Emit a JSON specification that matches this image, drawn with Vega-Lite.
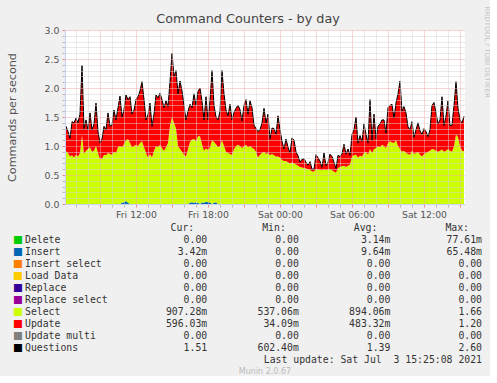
{
  "$schema": "https://vega.github.io/schema/vega-lite/v6.json",
  "background": "#F0F0F0",
  "padding": {"left": 6, "top": 5, "right": 0, "bottom": 0},
  "title": {"text": "Command Counters - by day", "font": "DejaVu Sans", "fontSize": 12.8, "fontWeight": "normal", "color": "#444444", "anchor": "middle", "offset": -20},
  "config": {"view": {"stroke": null}, "font": "DejaVu Sans"},
  "spacing": 3,
  "resolve": {"scale": {"color": "independent", "x": "independent", "y": "independent"}},
  "datasets": {
    "ts": [
{"t":"2021-07-02T06:10","Insert":0,"Select":0.91,"Update":0.43,"Questions":1.34},
{"t":"2021-07-02T06:20","Insert":0,"Select":0.88,"Update":0.37,"Questions":1.25},
{"t":"2021-07-02T06:30","Insert":0,"Select":0.82,"Update":0.31,"Questions":1.13},
{"t":"2021-07-02T06:40","Insert":0,"Select":0.84,"Update":0.58,"Questions":1.42},
{"t":"2021-07-02T06:50","Insert":0,"Select":0.80,"Update":0.60,"Questions":1.40},
{"t":"2021-07-02T07:00","Insert":0,"Select":0.85,"Update":0.63,"Questions":1.48},
{"t":"2021-07-02T07:10","Insert":0,"Select":0.82,"Update":0.58,"Questions":1.40},
{"t":"2021-07-02T07:20","Insert":0,"Select":0.88,"Update":0.67,"Questions":1.55},
{"t":"2021-07-02T07:30","Insert":0,"Select":1.19,"Update":1.20,"Questions":2.39},
{"t":"2021-07-02T07:40","Insert":0,"Select":0.86,"Update":0.44,"Questions":1.30},
{"t":"2021-07-02T07:50","Insert":0,"Select":0.92,"Update":0.53,"Questions":1.45},
{"t":"2021-07-02T08:00","Insert":0,"Select":0.95,"Update":0.33,"Questions":1.28},
{"t":"2021-07-02T08:10","Insert":0,"Select":0.98,"Update":0.59,"Questions":1.57},
{"t":"2021-07-02T08:20","Insert":0,"Select":0.90,"Update":0.38,"Questions":1.28},
{"t":"2021-07-02T08:30","Insert":0,"Select":0.92,"Update":0.46,"Questions":1.38},
{"t":"2021-07-02T08:40","Insert":0,"Select":1.00,"Update":0.74,"Questions":1.74},
{"t":"2021-07-02T08:50","Insert":0,"Select":0.88,"Update":0.37,"Questions":1.25},
{"t":"2021-07-02T09:00","Insert":0,"Select":0.77,"Update":0.28,"Questions":1.05},
{"t":"2021-07-02T09:10","Insert":0,"Select":0.78,"Update":0.34,"Questions":1.12},
{"t":"2021-07-02T09:20","Insert":0,"Select":0.85,"Update":0.49,"Questions":1.34},
{"t":"2021-07-02T09:30","Insert":0,"Select":0.84,"Update":0.44,"Questions":1.28},
{"t":"2021-07-02T09:40","Insert":0,"Select":0.88,"Update":0.69,"Questions":1.57},
{"t":"2021-07-02T09:50","Insert":0,"Select":0.86,"Update":0.48,"Questions":1.34},
{"t":"2021-07-02T10:00","Insert":0,"Select":0.85,"Update":0.51,"Questions":1.36},
{"t":"2021-07-02T10:10","Insert":0,"Select":0.90,"Update":0.72,"Questions":1.62},
{"t":"2021-07-02T10:20","Insert":0,"Select":0.88,"Update":0.57,"Questions":1.45},
{"t":"2021-07-02T10:30","Insert":0,"Select":0.98,"Update":0.68,"Questions":1.66},
{"t":"2021-07-02T10:40","Insert":0,"Select":1.00,"Update":0.86,"Questions":1.86},
{"t":"2021-07-02T10:50","Insert":0.02,"Select":0.96,"Update":0.52,"Questions":1.50},
{"t":"2021-07-02T11:00","Insert":0.03,"Select":1.00,"Update":0.60,"Questions":1.63},
{"t":"2021-07-02T11:10","Insert":0.05,"Select":1.05,"Update":0.78,"Questions":1.88},
{"t":"2021-07-02T11:20","Insert":0.02,"Select":1.10,"Update":0.68,"Questions":1.80},
{"t":"2021-07-02T11:30","Insert":0,"Select":1.05,"Update":0.80,"Questions":1.85},
{"t":"2021-07-02T11:40","Insert":0,"Select":0.98,"Update":0.57,"Questions":1.55},
{"t":"2021-07-02T11:50","Insert":0,"Select":1.00,"Update":0.62,"Questions":1.62},
{"t":"2021-07-02T12:00","Insert":0,"Select":1.02,"Update":0.78,"Questions":1.80},
{"t":"2021-07-02T12:10","Insert":0,"Select":1.00,"Update":0.85,"Questions":1.85},
{"t":"2021-07-02T12:20","Insert":0,"Select":1.05,"Update":0.90,"Questions":1.95},
{"t":"2021-07-02T12:30","Insert":0,"Select":1.08,"Update":1.03,"Questions":2.11},
{"t":"2021-07-02T12:40","Insert":0,"Select":0.98,"Update":0.82,"Questions":1.80},
{"t":"2021-07-02T12:50","Insert":0,"Select":0.88,"Update":0.57,"Questions":1.45},
{"t":"2021-07-02T13:00","Insert":0,"Select":0.80,"Update":0.74,"Questions":1.54},
{"t":"2021-07-02T13:10","Insert":0,"Select":0.86,"Update":0.88,"Questions":1.74},
{"t":"2021-07-02T13:20","Insert":0,"Select":0.80,"Update":0.54,"Questions":1.34},
{"t":"2021-07-02T13:30","Insert":0,"Select":0.92,"Update":0.63,"Questions":1.55},
{"t":"2021-07-02T13:40","Insert":0,"Select":1.00,"Update":0.88,"Questions":1.88},
{"t":"2021-07-02T13:50","Insert":0,"Select":0.98,"Update":0.85,"Questions":1.83},
{"t":"2021-07-02T14:00","Insert":0,"Select":1.02,"Update":0.89,"Questions":1.91},
{"t":"2021-07-02T14:10","Insert":0,"Select":0.96,"Update":0.84,"Questions":1.80},
{"t":"2021-07-02T14:20","Insert":0,"Select":0.92,"Update":0.74,"Questions":1.66},
{"t":"2021-07-02T14:30","Insert":0,"Select":0.98,"Update":0.80,"Questions":1.78},
{"t":"2021-07-02T14:40","Insert":0,"Select":1.05,"Update":0.63,"Questions":1.68},
{"t":"2021-07-02T14:50","Insert":0,"Select":1.35,"Update":0.76,"Questions":2.11},
{"t":"2021-07-02T15:00","Insert":0,"Select":1.50,"Update":1.10,"Questions":2.60},
{"t":"2021-07-02T15:10","Insert":0,"Select":1.40,"Update":0.80,"Questions":2.20},
{"t":"2021-07-02T15:20","Insert":0,"Select":1.30,"Update":1.00,"Questions":2.30},
{"t":"2021-07-02T15:30","Insert":0,"Select":1.00,"Update":0.90,"Questions":1.90},
{"t":"2021-07-02T15:40","Insert":0,"Select":0.95,"Update":1.17,"Questions":2.12},
{"t":"2021-07-02T15:50","Insert":0,"Select":0.90,"Update":1.05,"Questions":1.95},
{"t":"2021-07-02T16:00","Insert":0,"Select":0.85,"Update":0.85,"Questions":1.70},
{"t":"2021-07-02T16:10","Insert":0,"Select":0.82,"Update":0.63,"Questions":1.45},
{"t":"2021-07-02T16:20","Insert":0,"Select":0.95,"Update":0.65,"Questions":1.60},
{"t":"2021-07-02T16:30","Insert":0.02,"Select":1.05,"Update":0.65,"Questions":1.72},
{"t":"2021-07-02T16:40","Insert":0.03,"Select":1.08,"Update":0.55,"Questions":1.66},
{"t":"2021-07-02T16:50","Insert":0.02,"Select":1.10,"Update":0.78,"Questions":1.90},
{"t":"2021-07-02T17:00","Insert":0.03,"Select":1.05,"Update":0.62,"Questions":1.70},
{"t":"2021-07-02T17:10","Insert":0.02,"Select":1.15,"Update":0.77,"Questions":1.94},
{"t":"2021-07-02T17:20","Insert":0,"Select":1.17,"Update":0.83,"Questions":2.00},
{"t":"2021-07-02T17:30","Insert":0.03,"Select":1.00,"Update":0.74,"Questions":1.77},
{"t":"2021-07-02T17:40","Insert":0.02,"Select":0.90,"Update":0.53,"Questions":1.45},
{"t":"2021-07-02T17:50","Insert":0.04,"Select":0.92,"Update":0.89,"Questions":1.85},
{"t":"2021-07-02T18:00","Insert":0.03,"Select":0.90,"Update":0.52,"Questions":1.45},
{"t":"2021-07-02T18:10","Insert":0.03,"Select":0.95,"Update":0.80,"Questions":1.78},
{"t":"2021-07-02T18:20","Insert":0,"Select":1.10,"Update":1.20,"Questions":2.30},
{"t":"2021-07-02T18:30","Insert":0.02,"Select":1.05,"Update":0.63,"Questions":1.70},
{"t":"2021-07-02T18:40","Insert":0.03,"Select":1.00,"Update":0.47,"Questions":1.50},
{"t":"2021-07-02T18:50","Insert":0,"Select":0.98,"Update":0.47,"Questions":1.45},
{"t":"2021-07-02T19:00","Insert":0,"Select":1.00,"Update":0.60,"Questions":1.60},
{"t":"2021-07-02T19:10","Insert":0,"Select":1.10,"Update":1.20,"Questions":2.30},
{"t":"2021-07-02T19:20","Insert":0,"Select":1.00,"Update":0.90,"Questions":1.90},
{"t":"2021-07-02T19:30","Insert":0,"Select":0.90,"Update":0.72,"Questions":1.62},
{"t":"2021-07-02T19:40","Insert":0,"Select":0.88,"Update":0.64,"Questions":1.52},
{"t":"2021-07-02T19:50","Insert":0,"Select":0.86,"Update":0.86,"Questions":1.72},
{"t":"2021-07-02T20:00","Insert":0,"Select":0.85,"Update":0.60,"Questions":1.45},
{"t":"2021-07-02T20:10","Insert":0,"Select":0.95,"Update":0.63,"Questions":1.58},
{"t":"2021-07-02T20:20","Insert":0,"Select":1.00,"Update":0.65,"Questions":1.65},
{"t":"2021-07-02T20:30","Insert":0,"Select":1.02,"Update":0.68,"Questions":1.70},
{"t":"2021-07-02T20:40","Insert":0,"Select":1.00,"Update":0.63,"Questions":1.63},
{"t":"2021-07-02T20:50","Insert":0,"Select":0.96,"Update":0.47,"Questions":1.43},
{"t":"2021-07-02T21:00","Insert":0,"Select":1.00,"Update":0.70,"Questions":1.70},
{"t":"2021-07-02T21:10","Insert":0,"Select":1.02,"Update":0.78,"Questions":1.80},
{"t":"2021-07-02T21:20","Insert":0,"Select":0.98,"Update":0.57,"Questions":1.55},
{"t":"2021-07-02T21:30","Insert":0,"Select":1.00,"Update":0.78,"Questions":1.78},
{"t":"2021-07-02T21:40","Insert":0,"Select":0.97,"Update":0.69,"Questions":1.66},
{"t":"2021-07-02T21:50","Insert":0,"Select":0.95,"Update":0.41,"Questions":1.36},
{"t":"2021-07-02T22:00","Insert":0,"Select":0.90,"Update":0.40,"Questions":1.30},
{"t":"2021-07-02T22:10","Insert":0,"Select":0.80,"Update":0.45,"Questions":1.25},
{"t":"2021-07-02T22:20","Insert":0,"Select":0.85,"Update":0.43,"Questions":1.28},
{"t":"2021-07-02T22:30","Insert":0,"Select":0.88,"Update":0.52,"Questions":1.40},
{"t":"2021-07-02T22:40","Insert":0,"Select":0.90,"Update":0.75,"Questions":1.65},
{"t":"2021-07-02T22:50","Insert":0,"Select":0.86,"Update":0.54,"Questions":1.40},
{"t":"2021-07-02T23:00","Insert":0,"Select":0.88,"Update":0.67,"Questions":1.55},
{"t":"2021-07-02T23:10","Insert":0,"Select":0.84,"Update":0.28,"Questions":1.12},
{"t":"2021-07-02T23:20","Insert":0,"Select":0.86,"Update":0.45,"Questions":1.31},
{"t":"2021-07-02T23:30","Insert":0,"Select":0.84,"Update":0.46,"Questions":1.30},
{"t":"2021-07-02T23:40","Insert":0,"Select":0.82,"Update":0.38,"Questions":1.20},
{"t":"2021-07-02T23:50","Insert":0,"Select":0.82,"Update":0.70,"Questions":1.52},
{"t":"2021-07-03T00:00","Insert":0,"Select":0.80,"Update":0.48,"Questions":1.28},
{"t":"2021-07-03T00:10","Insert":0,"Select":0.76,"Update":0.32,"Questions":1.08},
{"t":"2021-07-03T00:20","Insert":0,"Select":0.74,"Update":0.21,"Questions":0.95},
{"t":"2021-07-03T00:30","Insert":0,"Select":0.74,"Update":0.38,"Questions":1.12},
{"t":"2021-07-03T00:40","Insert":0,"Select":0.72,"Update":0.26,"Questions":0.98},
{"t":"2021-07-03T00:50","Insert":0,"Select":0.70,"Update":0.18,"Questions":0.88},
{"t":"2021-07-03T01:00","Insert":0,"Select":0.72,"Update":0.42,"Questions":1.14},
{"t":"2021-07-03T01:10","Insert":0,"Select":0.70,"Update":0.40,"Questions":1.10},
{"t":"2021-07-03T01:20","Insert":0,"Select":0.68,"Update":0.22,"Questions":0.90},
{"t":"2021-07-03T01:30","Insert":0,"Select":0.66,"Update":0.17,"Questions":0.83},
{"t":"2021-07-03T01:40","Insert":0,"Select":0.64,"Update":0.08,"Questions":0.72},
{"t":"2021-07-03T01:50","Insert":0,"Select":0.63,"Update":0.14,"Questions":0.77},
{"t":"2021-07-03T02:00","Insert":0,"Select":0.62,"Update":0.16,"Questions":0.78},
{"t":"2021-07-03T02:10","Insert":0,"Select":0.61,"Update":0.11,"Questions":0.72},
{"t":"2021-07-03T02:20","Insert":0,"Select":0.60,"Update":0.07,"Questions":0.67},
{"t":"2021-07-03T02:30","Insert":0,"Select":0.59,"Update":0.14,"Questions":0.73},
{"t":"2021-07-03T02:40","Insert":0,"Select":0.56,"Update":0.04,"Questions":0.60},
{"t":"2021-07-03T02:50","Insert":0,"Select":0.56,"Update":0.04,"Questions":0.60},
{"t":"2021-07-03T03:00","Insert":0,"Select":0.60,"Update":0.25,"Questions":0.85},
{"t":"2021-07-03T03:10","Insert":0,"Select":0.60,"Update":0.20,"Questions":0.80},
{"t":"2021-07-03T03:20","Insert":0,"Select":0.59,"Update":0.15,"Questions":0.74},
{"t":"2021-07-03T03:30","Insert":0,"Select":0.58,"Update":0.05,"Questions":0.63},
{"t":"2021-07-03T03:40","Insert":0,"Select":0.60,"Update":0.28,"Questions":0.88},
{"t":"2021-07-03T03:50","Insert":0,"Select":0.58,"Update":0.08,"Questions":0.66},
{"t":"2021-07-03T04:00","Insert":0,"Select":0.60,"Update":0.12,"Questions":0.72},
{"t":"2021-07-03T04:10","Insert":0,"Select":0.60,"Update":0.26,"Questions":0.86},
{"t":"2021-07-03T04:20","Insert":0,"Select":0.58,"Update":0.24,"Questions":0.82},
{"t":"2021-07-03T04:30","Insert":0,"Select":0.56,"Update":0.16,"Questions":0.72},
{"t":"2021-07-03T04:40","Insert":0,"Select":0.54,"Update":0.07,"Questions":0.61},
{"t":"2021-07-03T04:50","Insert":0,"Select":0.62,"Update":0.22,"Questions":0.84},
{"t":"2021-07-03T05:00","Insert":0,"Select":0.64,"Update":0.18,"Questions":0.82},
{"t":"2021-07-03T05:10","Insert":0,"Select":0.65,"Update":0.21,"Questions":0.86},
{"t":"2021-07-03T05:20","Insert":0,"Select":0.66,"Update":0.37,"Questions":1.03},
{"t":"2021-07-03T05:30","Insert":0,"Select":0.64,"Update":0.22,"Questions":0.86},
{"t":"2021-07-03T05:40","Insert":0,"Select":0.66,"Update":0.29,"Questions":0.95},
{"t":"2021-07-03T05:50","Insert":0,"Select":0.68,"Update":0.16,"Questions":0.84},
{"t":"2021-07-03T06:00","Insert":0,"Select":0.82,"Update":0.38,"Questions":1.20},
{"t":"2021-07-03T06:10","Insert":0,"Select":0.84,"Update":0.44,"Questions":1.28},
{"t":"2021-07-03T06:20","Insert":0,"Select":0.85,"Update":0.65,"Questions":1.50},
{"t":"2021-07-03T06:30","Insert":0,"Select":0.80,"Update":0.25,"Questions":1.05},
{"t":"2021-07-03T06:40","Insert":0,"Select":0.83,"Update":0.35,"Questions":1.18},
{"t":"2021-07-03T06:50","Insert":0,"Select":0.82,"Update":0.26,"Questions":1.08},
{"t":"2021-07-03T07:00","Insert":0,"Select":0.88,"Update":0.50,"Questions":1.38},
{"t":"2021-07-03T07:10","Insert":0,"Select":0.90,"Update":0.30,"Questions":1.20},
{"t":"2021-07-03T07:20","Insert":0,"Select":0.85,"Update":0.20,"Questions":1.05},
{"t":"2021-07-03T07:30","Insert":0,"Select":0.95,"Update":0.85,"Questions":1.80},
{"t":"2021-07-03T07:40","Insert":0,"Select":0.88,"Update":0.22,"Questions":1.10},
{"t":"2021-07-03T07:50","Insert":0,"Select":0.95,"Update":0.60,"Questions":1.55},
{"t":"2021-07-03T08:00","Insert":0,"Select":0.96,"Update":0.16,"Questions":1.12},
{"t":"2021-07-03T08:10","Insert":0,"Select":1.00,"Update":0.34,"Questions":1.34},
{"t":"2021-07-03T08:20","Insert":0,"Select":0.98,"Update":0.40,"Questions":1.38},
{"t":"2021-07-03T08:30","Insert":0,"Select":1.02,"Update":0.43,"Questions":1.45},
{"t":"2021-07-03T08:40","Insert":0,"Select":1.00,"Update":0.45,"Questions":1.45},
{"t":"2021-07-03T08:50","Insert":0,"Select":0.96,"Update":0.26,"Questions":1.22},
{"t":"2021-07-03T09:00","Insert":0,"Select":1.05,"Update":0.61,"Questions":1.66},
{"t":"2021-07-03T09:10","Insert":0,"Select":1.08,"Update":0.62,"Questions":1.70},
{"t":"2021-07-03T09:20","Insert":0,"Select":1.06,"Update":0.66,"Questions":1.72},
{"t":"2021-07-03T09:30","Insert":0,"Select":1.05,"Update":0.43,"Questions":1.48},
{"t":"2021-07-03T09:40","Insert":0,"Select":1.10,"Update":0.64,"Questions":1.74},
{"t":"2021-07-03T09:50","Insert":0,"Select":1.00,"Update":0.90,"Questions":1.90},
{"t":"2021-07-03T10:00","Insert":0,"Select":0.95,"Update":1.17,"Questions":2.12},
{"t":"2021-07-03T10:10","Insert":0,"Select":0.90,"Update":0.70,"Questions":1.60},
{"t":"2021-07-03T10:20","Insert":0,"Select":0.92,"Update":0.76,"Questions":1.68},
{"t":"2021-07-03T10:30","Insert":0,"Select":0.88,"Update":0.69,"Questions":1.57},
{"t":"2021-07-03T10:40","Insert":0,"Select":0.86,"Update":0.47,"Questions":1.33},
{"t":"2021-07-03T10:50","Insert":0,"Select":0.85,"Update":0.43,"Questions":1.28},
{"t":"2021-07-03T11:00","Insert":0,"Select":0.92,"Update":0.50,"Questions":1.42},
{"t":"2021-07-03T11:10","Insert":0,"Select":0.86,"Update":0.29,"Questions":1.15},
{"t":"2021-07-03T11:20","Insert":0,"Select":0.88,"Update":0.40,"Questions":1.28},
{"t":"2021-07-03T11:30","Insert":0,"Select":0.90,"Update":0.50,"Questions":1.40},
{"t":"2021-07-03T11:40","Insert":0,"Select":0.85,"Update":0.41,"Questions":1.26},
{"t":"2021-07-03T11:50","Insert":0,"Select":0.82,"Update":0.38,"Questions":1.20},
{"t":"2021-07-03T12:00","Insert":0,"Select":0.86,"Update":0.44,"Questions":1.30},
{"t":"2021-07-03T12:10","Insert":0,"Select":0.88,"Update":0.37,"Questions":1.25},
{"t":"2021-07-03T12:20","Insert":0,"Select":0.90,"Update":0.26,"Questions":1.16},
{"t":"2021-07-03T12:30","Insert":0,"Select":0.92,"Update":0.36,"Questions":1.28},
{"t":"2021-07-03T12:40","Insert":0,"Select":0.95,"Update":0.75,"Questions":1.70},
{"t":"2021-07-03T12:50","Insert":0,"Select":0.94,"Update":0.81,"Questions":1.75},
{"t":"2021-07-03T13:00","Insert":0,"Select":0.92,"Update":0.65,"Questions":1.57},
{"t":"2021-07-03T13:10","Insert":0,"Select":0.90,"Update":0.48,"Questions":1.38},
{"t":"2021-07-03T13:20","Insert":0,"Select":0.92,"Update":0.53,"Questions":1.45},
{"t":"2021-07-03T13:30","Insert":0,"Select":0.94,"Update":0.91,"Questions":1.85},
{"t":"2021-07-03T13:40","Insert":0,"Select":0.90,"Update":0.45,"Questions":1.35},
{"t":"2021-07-03T13:50","Insert":0,"Select":0.92,"Update":0.60,"Questions":1.52},
{"t":"2021-07-03T14:00","Insert":0,"Select":0.95,"Update":0.83,"Questions":1.78},
{"t":"2021-07-03T14:10","Insert":0,"Select":0.92,"Update":0.43,"Questions":1.35},
{"t":"2021-07-03T14:20","Insert":0,"Select":0.90,"Update":0.46,"Questions":1.36},
{"t":"2021-07-03T14:30","Insert":0,"Select":1.00,"Update":0.70,"Questions":1.70},
{"t":"2021-07-03T14:40","Insert":0,"Select":1.20,"Update":0.91,"Questions":2.11},
{"t":"2021-07-03T14:50","Insert":0,"Select":1.15,"Update":0.50,"Questions":1.65},
{"t":"2021-07-03T15:00","Insert":0,"Select":1.00,"Update":0.45,"Questions":1.45},
{"t":"2021-07-03T15:10","Insert":0,"Select":0.92,"Update":0.48,"Questions":1.40},
{"t":"2021-07-03T15:20","Insert":0,"Select":0.91,"Update":0.60,"Questions":1.51}
    ],
    "tbl": [
      {"name":"Delete","Cur":"0.00\u00a0","Min":"0.00\u00a0","Avg":"3.14m","Max":"77.61m"},
      {"name":"Insert","Cur":"3.42m","Min":"0.00\u00a0","Avg":"9.64m","Max":"65.48m"},
      {"name":"Insert select","Cur":"0.00\u00a0","Min":"0.00\u00a0","Avg":"0.00\u00a0","Max":"0.00\u00a0"},
      {"name":"Load Data","Cur":"0.00\u00a0","Min":"0.00\u00a0","Avg":"0.00\u00a0","Max":"0.00\u00a0"},
      {"name":"Replace","Cur":"0.00\u00a0","Min":"0.00\u00a0","Avg":"0.00\u00a0","Max":"0.00\u00a0"},
      {"name":"Replace select","Cur":"0.00\u00a0","Min":"0.00\u00a0","Avg":"0.00\u00a0","Max":"0.00\u00a0"},
      {"name":"Select","Cur":"907.28m","Min":"537.06m","Avg":"894.06m","Max":"1.66\u00a0"},
      {"name":"Update","Cur":"596.03m","Min":"34.09m","Avg":"483.32m","Max":"1.20\u00a0"},
      {"name":"Update multi","Cur":"0.00\u00a0","Min":"0.00\u00a0","Avg":"0.00\u00a0","Max":"0.00\u00a0"},
      {"name":"Questions","Cur":"1.51\u00a0","Min":"602.40m","Avg":"1.39\u00a0","Max":"2.60\u00a0"}
    ]
  },
  "vconcat": [
    {
      "width": 400,
      "height": 174,
      "view": {"fill": "white", "stroke": null},
      "data": {"name": "ts"},
      "layer": [
        {
          "transform": [{"fold": ["Insert", "Select", "Update"], "as": ["series", "amount"]}],
          "mark": {"type": "area"},
          "encoding": {
            "x": {
              "field": "t", "type": "temporal",
              "scale": {"domain": [{"year": 2021, "month": 7, "date": 2, "hours": 6, "minutes": 5}, {"year": 2021, "month": 7, "date": 3, "hours": 15, "minutes": 25}]},
              "axis": {
                "title": null,
                "tickCount": 33,
                "labelExpr": "hours(datum.value) % 6 == 0 ? timeFormat(datum.value, '%a %H:%M') : ''",
                "labelOverlap": false, "labelFlush": false,
                "grid": true, "gridDash": [1, 1],
                "gridColor": {"condition": {"test": "hours(datum.value) % 3 == 0", "value": "#eeaaaa"}, "value": "#d4d4d4"},
                "tickColor": {"condition": {"test": "hours(datum.value) % 3 == 0", "value": "#ee8888"}, "value": "#bbbbbb"},
                "tickSize": 3,
                "domainColor": "#c8d2f0",
                "labelFont": "DejaVu Sans", "labelFontSize": 9.3, "labelColor": "#555555", "labelPadding": 3,
                "zindex": 1
              }
            },
            "y": {
              "field": "amount", "type": "quantitative", "stack": "zero",
              "scale": {"domain": [0, 3], "nice": false},
              "axis": {
                "title": "Commands per second",
                "tickCount": 30,
                "labelExpr": "abs(datum.value * 2 - round(datum.value * 2)) < 0.001 ? format(datum.value, '.1f') : ''",
                "labelOverlap": false,
                "grid": true, "gridDash": [1, 1],
                "gridColor": {"condition": {"test": "abs(datum.value * 2 - round(datum.value * 2)) < 0.001", "value": "#eeaaaa"}, "value": "#d4d4d4"},
                "tickColor": {"condition": {"test": "abs(datum.value * 2 - round(datum.value * 2)) < 0.001", "value": "#ee8888"}, "value": "#bbbbbb"},
                "tickSize": 3,
                "domainColor": "#c8d2f0",
                "labelFont": "DejaVu Sans", "labelFontSize": 9.4, "labelColor": "#555555", "labelPadding": 3,
                "titleFont": "DejaVu Sans", "titleFontSize": 11.2, "titleFontWeight": "normal", "titleColor": "#555555", "titlePadding": 27,
                "zindex": 1
              }
            },
            "color": {
              "field": "series", "type": "nominal",
              "scale": {"domain": ["Insert", "Select", "Update"], "range": ["#0066B3", "#CCFF00", "#FF0000"]},
              "legend": null
            },
            "order": {"field": "series", "type": "nominal", "sort": "ascending"}
          }
        },
        {
          "mark": {"type": "line", "color": "#000000", "strokeWidth": 1},
          "encoding": {
            "x": {"field": "t", "type": "temporal"},
            "y": {
              "field": "Questions", "type": "quantitative",
              "axis": {
                "orient": "right", "title": "RRDTOOL / TOBI OETIKER",
                "labels": false, "ticks": false, "domain": false, "grid": false,
                "titleAngle": 90, "titleAlign": "left", "titleBaseline": "alphabetic",
                "titleX": 19, "titleY": -24,
                "titleFont": "DejaVu Sans", "titleFontSize": 7.1, "titleFontWeight": "normal", "titleColor": "#c4c4c4"
              }
            }
          }
        }
      ],
      "resolve": {"axis": {"y": "independent"}}
    },
    {
      "width": 400,
      "height": 132,
      "title": {"text": "Munin 2.0.67", "orient": "bottom", "anchor": "middle", "font": "DejaVu Sans", "fontSize": 8, "fontWeight": "normal", "color": "#bbbbbb", "offset": 3},
      "layer": [
        {
          "data": {"name": "tbl"},
          "mark": {"type": "text", "align": "left", "baseline": "middle", "dx": -11, "font": "DejaVu Sans", "fontSize": 10.5, "text": "■"},
          "encoding": {
            "x": {"datum": "name", "type": "nominal", "scale": {"type": "point", "domain": ["name", "gap", "Cur", "Min", "Avg", "Max"], "padding": 0, "range": [-41, 417]}, "axis": null},
            "y": {"field": "name", "type": "nominal", "scale": {"type": "point", "padding": 0, "domain": ["hdr", "Delete", "Insert", "Insert select", "Load Data", "Replace", "Replace select", "Select", "Update", "Update multi", "Questions", "last"]}, "axis": null},
            "color": {"field": "name", "type": "nominal", "scale": {"domain": ["Delete", "Insert", "Insert select", "Load Data", "Replace", "Replace select", "Select", "Update", "Update multi", "Questions"], "range": ["#00CC00", "#0066B3", "#FF8000", "#FFCC00", "#330099", "#990099", "#CCFF00", "#FF0000", "#808080", "#000000"]}, "legend": null}
          }
        },
        {
          "data": {"name": "tbl"},
          "mark": {"type": "text", "align": "left", "baseline": "middle", "dx": 1, "font": "DejaVu Sans Mono", "fontSize": 9.8, "color": "#333333"},
          "encoding": {
            "x": {"datum": "name", "type": "nominal"},
            "y": {"field": "name", "type": "nominal"},
            "text": {"field": "name"}
          }
        },
        {
          "data": {"name": "tbl"},
          "transform": [{"fold": ["Cur", "Min", "Avg", "Max"], "as": ["col", "val"]}],
          "mark": {"type": "text", "align": "right", "baseline": "middle", "font": "DejaVu Sans Mono", "fontSize": 9.8, "color": "#333333"},
          "encoding": {
            "x": {"field": "col", "type": "nominal"},
            "y": {"field": "name", "type": "nominal"},
            "text": {"field": "val"}
          }
        },
        {
          "data": {"values": [{"col": "Cur", "h": "Cur:"}, {"col": "Min", "h": "Min:"}, {"col": "Avg", "h": "Avg:"}, {"col": "Max", "h": "Max:"}]},
          "mark": {"type": "text", "align": "right", "baseline": "middle", "dx": -13, "font": "DejaVu Sans Mono", "fontSize": 9.8, "color": "#333333"},
          "encoding": {
            "x": {"field": "col", "type": "nominal"},
            "y": {"datum": "hdr", "type": "nominal"},
            "text": {"field": "h"}
          }
        },
        {
          "data": {"values": [{"note": "Last update: Sat Jul \u00a03 15:25:08 2021"}]},
          "mark": {"type": "text", "align": "right", "baseline": "middle", "font": "DejaVu Sans Mono", "fontSize": 9.8, "color": "#333333"},
          "encoding": {
            "x": {"datum": "Max", "type": "nominal"},
            "y": {"datum": "last", "type": "nominal"},
            "text": {"field": "note"}
          }
        }
      ]
    }
  ]
}
